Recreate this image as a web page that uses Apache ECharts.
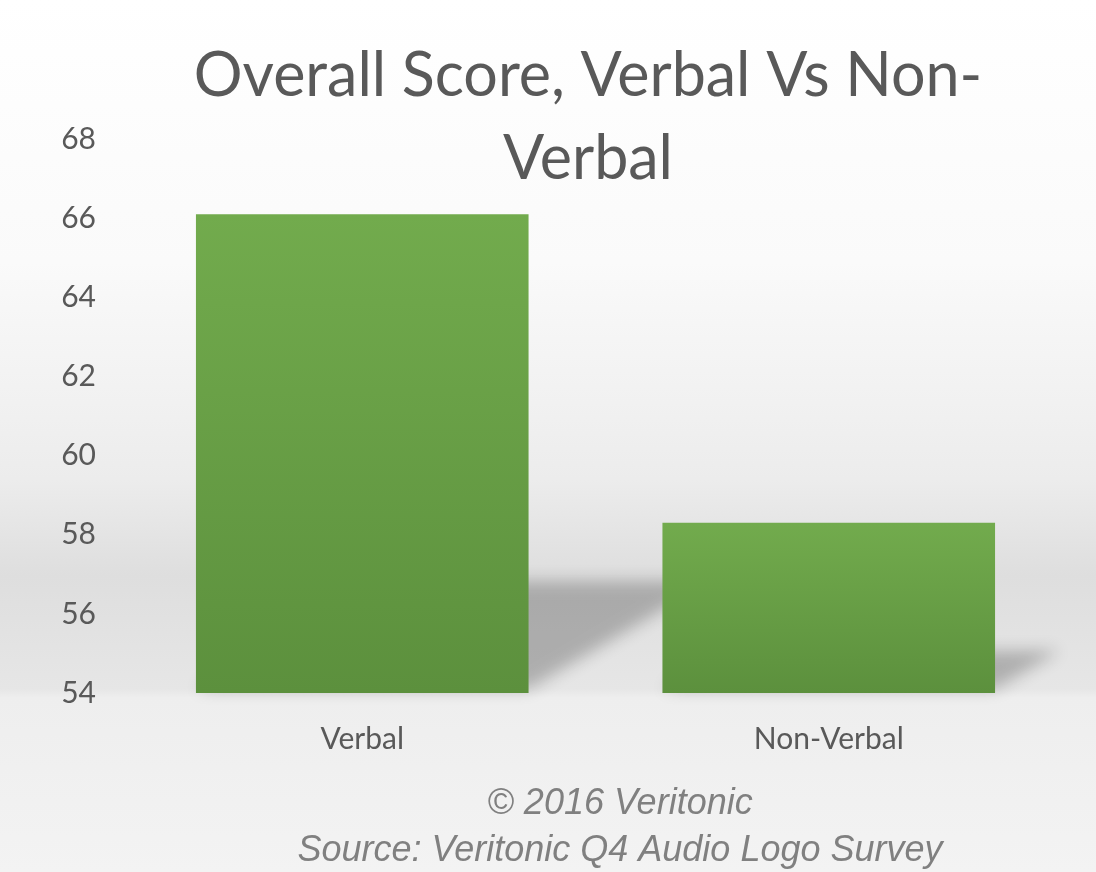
<!DOCTYPE html>
<html>
<head>
<meta charset="utf-8">
<script src="https://cdn.jsdelivr.net/npm/echarts@6/dist/echarts.min.js"></script>
<style>
html,body{margin:0;padding:0;}
#chart{width:1096px;height:872px;}
</style>
</head>
<body>
<div id="chart"></div>
<script>
const categories = ['Verbal', 'Non-Verbal'];
const scores = [66.1, 58.3];
const yTicks = [54, 56, 58, 60, 62, 64, 66, 68];
const titleText = 'Overall Score, Verbal Vs Non-\nVerbal';
const footerText = '\u00a9 2016 Veritonic\nSource: Veritonic Q4 Audio Logo Survey';

const yMin = yTicks[0], yMax = yTicks[yTicks.length - 1];
const chart = echarts.init(document.getElementById('chart'));

const bgGrad = new echarts.graphic.LinearGradient(0, 0, 0, 1, [
  {offset: 0, color: '#ffffff'},
  {offset: 0.3, color: '#fafafa'},
  {offset: 0.55, color: '#ececec'},
  {offset: 0.66, color: '#dedede'},
  {offset: 0.79, color: '#e6e6e6'},
  {offset: 0.80, color: '#eeeeee'},
  {offset: 1, color: '#f3f3f3'}
]);

chart.setOption({
  backgroundColor: bgGrad,
  animation: false,
  title: [{
    text: titleText,
    left: 583,
    textAlign: 'center',
    top: 30,
    textStyle: {fontFamily: 'Lato', fontSize: 61, fontWeight: 'normal', color: '#595959', lineHeight: 83}
  }, {
    text: footerText,
    left: 615,
    textAlign: 'center',
    top: 775,
    textStyle: {fontFamily: 'Liberation Sans', fontStyle: 'italic', fontSize: 36, fontWeight: 'normal', color: '#808080', lineHeight: 47}
  }],
  grid: {left: 129, right: 34, top: 139, bottom: 179, containLabel: false},
  xAxis: {
    type: 'category',
    data: categories,
    axisLine: {show: false},
    axisTick: {show: false},
    axisLabel: {fontFamily: 'Lato', fontSize: 30, color: '#595959', margin: 31}
  },
  yAxis: {
    type: 'value',
    min: yMin, max: yMax, interval: 2,
    axisLine: {show: false},
    axisTick: {show: false},
    splitLine: {show: false},
    axisLabel: {fontFamily: 'Lato', fontSize: 30, color: '#595959', margin: 33}
  },
  series: [{
    type: 'custom',
    z: 1,
    silent: true,
    data: scores.map((v, i) => [i, v]),
    renderItem: function (params, api) {
      const idx = api.value(0);
      const top = api.coord([idx, api.value(1)]);
      const base = api.coord([idx, yMin]);
      const bw = api.size([1, 0])[0] * 0.713;
      const h = base[1] - top[1];
      const l = base[0] - bw / 2, r = base[0] + bw / 2, b = base[1] - 4;
      const dx = h * 0.38, dy = h * 0.225;
      const off = 3000;
      return {
        type: 'polygon',
        shape: {points: [[l - off, b], [r - off, b], [r + dx - off, b - dy], [l + dx - off, b - dy]]},
        style: {fill: '#000000', opacity: 1, shadowColor: 'rgba(0,0,0,0.24)', shadowBlur: 16, shadowOffsetX: off, shadowOffsetY: 0}
      };
    }
  }, {
    type: 'bar',
    z: 2,
    data: scores,
    barWidth: '71.3%',
    itemStyle: {
      color: new echarts.graphic.LinearGradient(0, 0, 0, 1, [
        {offset: 0, color: '#72ab4d'},
        {offset: 1, color: '#5c903d'}
      ])
    }
  }]
});
</script>
</body>
</html>
